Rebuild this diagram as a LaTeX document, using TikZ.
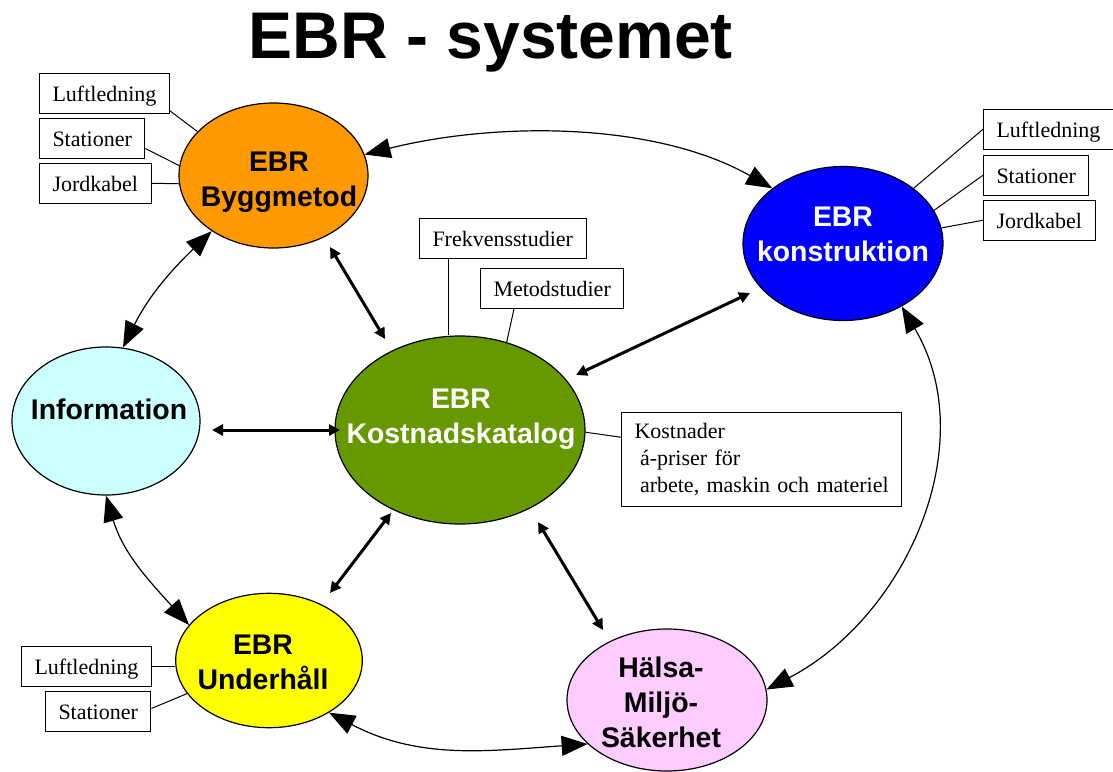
\documentclass[tikz,border=0pt]{standalone}
\usepackage{fontspec}
\setmainfont{Liberation Serif}
\newfontfamily\arialfam{Liberation Sans}
\usetikzlibrary{shapes.geometric,arrows.meta}
\definecolor{ebrorange}{HTML}{FF9900}
\definecolor{ebrblue}{HTML}{0000FF}
\definecolor{ebrcyan}{HTML}{CCFFFF}
\definecolor{ebrgreen}{HTML}{669900}
\definecolor{ebryellow}{HTML}{FFFF00}
\definecolor{ebrpink}{HTML}{FFCCFF}
\newcommand\ebrfont{\arialfam\bfseries\fontsize{14.2}{17.5}\selectfont}
\newcommand\smallboxfont{\fontsize{11}{13.5}\selectfont}
\begin{document}
\begin{tikzpicture}[x=0.5pt,y=-0.5pt,
  ell/.style={ellipse, draw, line width=0.6pt, inner sep=0pt},
  lbl/.style={font=\ebrfont, align=center, inner sep=0pt},
  smallbox/.style={draw, line width=0.5pt, font=\smallboxfont, inner xsep=6.5pt, inner ysep=0pt,
     minimum height=19.75pt, text height=9.5pt, text depth=1pt, anchor=north west},
  tie/.style={line width=0.5pt},
  curv/.style={line width=0.6pt, {Triangle[length=13pt,width=10pt]}-{Triangle[length=13pt,width=10pt]}},
  fatarrow/.style={line width=1.5pt, {Triangle[length=5.5pt,width=5.5pt]}-{Triangle[length=5.5pt,width=5.5pt]}}
]
\useasboundingbox (0,0) rectangle (1113,771);

% title
\node[font=\arialfam\bfseries\fontsize{33}{36}\selectfont, anchor=base, inner sep=0pt] (title) at (491,58) {EBR - systemet};

% ellipses
\node[ell, fill=ebrorange, minimum width=94.5pt, minimum height=72.5pt] (B) at (273.5,175.5) {};
\node[ell, fill=ebrblue, minimum width=100pt, minimum height=77pt] (K) at (843,243.5) {};
\node[ell, fill=ebrcyan, minimum width=94pt, minimum height=74pt] (I) at (106,421) {};
\node[ell, fill=ebrgreen, minimum width=125pt, minimum height=94pt] (Kos) at (460,430) {};
\node[ell, fill=ebryellow, minimum width=93.3pt, minimum height=67.2pt] (U) at (269,660.5) {};
\node[ell, fill=ebrpink, minimum width=100pt, minimum height=71pt] (H) at (667,700) {};

% ellipse labels
\node[lbl] (tB) at (279,182.7) {EBR\\Byggmetod};
\node[lbl, text=white] (tK) at (843,234.7) {EBR\\konstruktion};
\node[lbl, anchor=base] (tI) at (109,419.3) {Information};
\node[lbl, text=white] (tKos) at (461,419.7) {EBR\\Kostnadskatalog};
\node[lbl] (tU) at (263,662.3) {EBR\\Underhåll};
\node[lbl] (tH) at (661,702.2) {Hälsa-\\Miljö-\\Säkerhet};

% small boxes
\node[smallbox] (L1) at (39,73) {Luftledning};
\node[smallbox] (S1) at (39,118) {Stationer};
\node[smallbox] (J1) at (39,163) {Jordkabel};
\node[smallbox] (L2) at (983,109) {Luftledning};
\node[smallbox] (S2) at (983,155) {Stationer};
\node[smallbox] (J2) at (983,200) {Jordkabel};
\node[smallbox] (F) at (419,218) {Frekvensstudier};
\node[smallbox] (M) at (480,268) {Metodstudier};
\node[smallbox] (L3) at (21,646) {Luftledning};
\node[smallbox] (S3) at (45,691) {Stationer};
\node[draw, line width=0.5pt, anchor=north west, font=\smallboxfont, text width=134pt, align=left,
      inner xsep=3pt, inner ysep=0pt, minimum height=47pt] (KB) at (621,412)
      {\hspace*{3.5pt}Kostnader\\\hspace*{6.25pt}á-priser för\\\hspace*{6.25pt}arbete, maskin och materiel};

% box connectors
\draw[tie] (L1.-15) -- (B.150);
\draw[tie] (S1.-11.3) -- (B.174);
\draw[tie] (J1.east) -- (B.185);
\draw[tie] (L2.west) -- (K.38.6);
\draw[tie] (S2.west) -- (K.20.4);
\draw[tie] (J2.west) -- (K.9.4);
\coordinate (fdrop) at ([xshift=14.5pt]F.south west);
\draw[tie] (fdrop) -- (fdrop |- Kos.north);
\draw[tie] (M.208) -- (Kos.62.9);
\draw[tie] (KB.171.9) -- (Kos.-1);
\draw[tie] (L3.east) -- (L3.east -| U.west);
\draw[tie] (S3.3.8) -- (U.202.6);

% thick straight arrows
\coordinate (a6) at (330,247);  \coordinate (b6) at (385,339);
\coordinate (a7) at (576,375);  \coordinate (b7) at (750,293);
\coordinate (a8) at (212,430);  \coordinate (b8) at (340,430);
\coordinate (a9) at (391,513);  \coordinate (b9) at (330,593);
\coordinate (a10) at (538,522); \coordinate (b10) at (603,630);
\draw[fatarrow] (a6) -- (b6);
\draw[fatarrow] (a7) -- (b7);
\draw[fatarrow] (a8) -- (b8);
\draw[fatarrow] (a9) -- (b9);
\draw[fatarrow] (a10) -- (b10);

% thin curved arrows
\draw[curv] (B.13.8) to[out=14,in=150.5,looseness=0.85] (K.142.6);
\draw[curv] (B.222.6) to[out=224,in=63.4] (I.77.6);
\draw[curv] (I.270.8) to[out=-73.5,in=132.3] (U.156.9);
\draw[curv] (U.-41) to[out=-27.6,in=184] (H.209.4);
\draw[curv] (K.-47.5) to[out=-59.4,in=27.6] (H.6.8);
\end{tikzpicture}
\end{document}
